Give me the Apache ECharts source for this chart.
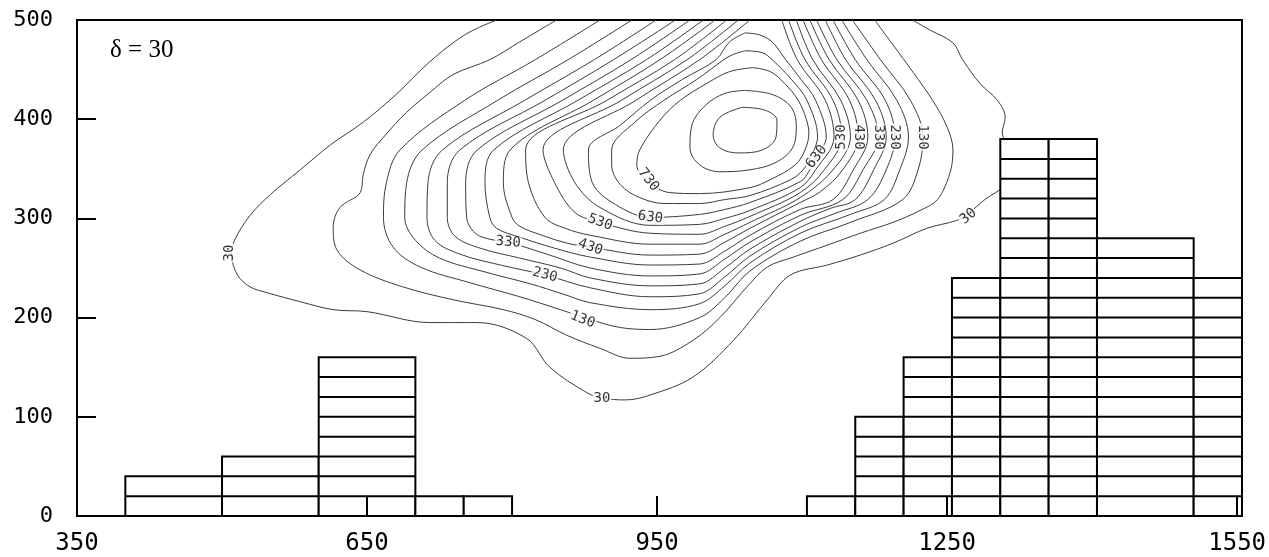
<!DOCTYPE html>
<html><head><meta charset="utf-8">
<script src="https://cdn.jsdelivr.net/npm/echarts@6/dist/echarts.min.js"></script>
<style>html,body{margin:0;padding:0;background:#fff}#c{width:1269px;height:557px}</style>
</head><body><div id="c"></div>
<script>
// Axis ticks
const xTicks = [350, 650, 950, 1250, 1550];
const xMax = 1555;
const yTicks = [0, 100, 200, 300, 400, 500];

// Histogram bins (stacked cells of 20)
const binLeft   = [400, 500, 600, 700, 750, 1105, 1155, 1205, 1255, 1305, 1355, 1405, 1505];
const binRight  = [500, 600, 700, 750, 800, 1155, 1205, 1255, 1305, 1355, 1405, 1505, 1555];
const binHeight = [40,  60,  160, 20,  20,  20,   100,  160,  240,  380,  380,  280,  240];
const cellSize = 20;

// Contour lines, levels 30..830 step 50
const c30 = [[784,500],[751,485],[715,458],[679,424],[646,397],[612,374],[581,349],[550,324],[529,303],[513,278],[510,263],[516,243],[529,231],[547,225],[581,216],[615,208],[650,206],[715,195],[764,195],[815,179],[839,150],[878,124],[893,119],[917,117],[943,122],[987,140],[1029,177],[1064,218],[1088,243],[1126,253],[1160,263],[1194,275],[1229,290],[1260,298],[1272,305],[1289,319],[1310,334],[1320,359],[1313,374],[1307,386],[1310,402],[1302,419],[1284,436],[1266,460],[1256,477],[1232,490],[1214,500]];
const c80 = [[846,500],[808,478],[777,460],[739,445],[715,427],[691,407],[669,384],[653,364],[646,344],[643,326],[622,311],[615,291],[619,268],[643,248],[687,231],[739,218],[791,208],[824,198],[857,182],[891,169],[922,159],[953,161],[987,177],[1015,200],[1043,231],[1064,251],[1091,261],[1126,273],[1160,285],[1194,296],[1222,308],[1240,319],[1253,346],[1256,369],[1250,392],[1235,419],[1215,447],[1194,475],[1175,500]];
const c130 = [[891,500],[824,460],[751,419],[684,369],[670,336],[667,301],[677,271],[705,251],[757,235],[808,221],[850,208],[881,198],[912,190],[943,188],[994,200],[1020,220],[1046,247],[1098,277],[1150,296],[1204,319],[1220,349],[1225,382],[1212,419],[1181,460],[1152,500]];
const c180 = [[924,500],[858,460],[785,419],[707,369],[691,336],[689,301],[700,278],[725,260],[772,246],[819,234],[855,223],[881,215],[943,208],[994,214],[1020,232],[1046,255],[1098,285],[1150,304],[1185,319],[1201,349],[1210,382],[1198,419],[1167,460],[1141,500]];
const c230 = [[949,500],[885,460],[813,419],[728,369],[713,336],[712,301],[720,278],[746,264],[788,253],[834,243],[881,230],[943,221],[994,224],[1020,241],[1046,262],[1098,291],[1134,305],[1168,319],[1187,349],[1196,382],[1186,419],[1155,460],[1132,500]];
const c280 = [[969,500],[905,460],[834,419],[746,369],[733,336],[733,301],[741,282],[767,270],[808,260],[850,250],[881,240],[943,232],[994,234],[1020,250],[1046,269],[1098,297],[1129,310],[1155,319],[1174,349],[1187,382],[1176,419],[1145,460],[1124,500]];
const c330 = [[984,500],[923,460],[852,419],[764,369],[752,336],[753,301],[762,285],[777,279],[796,276],[839,263],[881,250],[943,242],[994,244],[1020,259],[1046,276],[1098,303],[1142,319],[1163,349],[1179,382],[1167,419],[1136,460],[1115,500]];
const c380 = [[998,500],[939,460],[868,419],[781,369],[772,336],[777,301],[784,290],[808,281],[844,270],[881,261],[943,253],[994,254],[1020,267],[1046,283],[1098,309],[1132,319],[1153,349],[1168,382],[1158,419],[1128,460],[1108,500]];
const c430 = [[1010,500],[953,460],[884,419],[798,369],[791,336],[800,301],[808,292],[834,282],[857,275],[881,271],[943,263],[994,264],[1020,276],[1046,290],[1098,316],[1119,327],[1142,349],[1158,382],[1149,419],[1120,460],[1101,500]];
const c480 = [[1022,500],[968,460],[898,419],[814,369],[817,336],[834,301],[855,290],[881,283],[943,274],[994,274],[1020,284],[1046,296],[1098,321],[1132,349],[1150,382],[1140,419],[1111,460],[1094,500]];
const c530 = [[1034,500],[981,460],[913,419],[832,369],[844,336],[865,306],[891,296],[943,285],[994,284],[1020,292],[1046,302],[1098,326],[1123,349],[1141,382],[1132,419],[1103,460],[1086,500]];
const c580 = [[1046,500],[994,460],[928,419],[853,369],[865,336],[891,311],[943,293],[994,294],[1020,300],[1046,308],[1098,331],[1114,349],[1133,382],[1124,419],[1095,460],[1079,500]];
const c630 = [[1041,487],[1056,485],[1069,478],[1083,460],[1099,440],[1114,419],[1125,382],[1115,362],[1108,349],[1098,337],[1046,316],[1020,309],[994,304],[943,301],[907,314],[883,336],[879,369],[912,394],[943,419],[976,440],[1011,460],[1025,478],[1041,487]];
const c680 = [[1041,469],[1059,467],[1069,460],[1089,440],[1105,419],[1116,382],[1110,364],[1101,349],[1088,339],[1046,323],[1020,319],[994,315],[958,315],[932,321],[912,334],[903,354],[903,369],[927,397],[957,419],[991,440],[1019,460],[1028,465],[1041,469]];
const c730 = [[1049,452],[1067,448],[1082,436],[1096,419],[1104,401],[1107,386],[1103,369],[1093,354],[1067,339],[1046,331],[994,325],[963,326],[941,337],[929,354],[932,369],[953,399],[974,419],[1003,437],[1025,448],[1049,452]];
const c780 = [[1041,429],[1069,425],[1088,413],[1094,394],[1090,371],[1072,356],[1046,349],[1015,347],[994,354],[984,371],[986,394],[1000,414],[1020,426],[1041,429]];
const c830 = [[1038,412],[1062,409],[1074,399],[1073,382],[1059,369],[1034,366],[1015,371],[1008,384],[1015,402],[1038,412]];
const contourLevels = [30,80,130,180,230,280,330,380,430,480,530,580,630,680,730,780,830];
const contours = [c30,c80,c130,c180,c230,c280,c330,c380,c430,c480,c530,c580,c630,c680,c730,c780,c830];

// Contour labels
const labelText  = ['30','30','30','130','130','230','230','330','330','430','430','530','530','630','630','730'];
const labelX     = [508, 893, 1272, 873, 1225, 834, 1196, 796, 1179, 881, 1158, 891, 1141, 943, 1115, 941];
const labelY     = [265, 119, 302, 198, 382, 243, 382, 276, 382, 271, 382, 296, 382, 301, 362, 339];
const labelAngle = [90, 0, 40, -22, -90, -15, -90, -5, -90, -20, -90, -20, 90, -8, 52, -52];

const annotation = 'δ = 30';

const mono = 'DejaVu Sans Mono';
const chart = echarts.init(document.getElementById('c'), null, {renderer: 'canvas'});

const series = [];
contours.forEach((c, i) => {
  series.push({
    type: 'line', name: 'c' + contourLevels[i], data: c, showSymbol: false, symbol: 'none',
    smooth: 0.35, silent: true, z: 1,
    lineStyle: {color: '#3c3c3c', width: 1}
  });
});
series.push({
  type: 'scatter', silent: true, z: 3, symbolSize: 0,
  data: labelText.map((t, i) => ({
    value: [labelX[i], labelY[i]], name: t,
    label: {rotate: labelAngle[i]}
  })),
  label: {
    show: true, position: 'inside', formatter: p => p.name,
    fontFamily: mono, fontSize: 14, color: '#000',
    backgroundColor: '#fff', padding: [0, 1], lineHeight: 12
  }
});
series.push({
  type: 'custom', silent: true, z: 4,
  data: binLeft.map((l, i) => [l, binRight[i], binHeight[i]]),
  encode: {x: [0, 1], y: 2},
  renderItem: (params, api) => {
    const x0 = api.value(0), x1 = api.value(1), h = api.value(2);
    const p0 = api.coord([x0, 0]), p1 = api.coord([x1, h]);
    const children = [{
      type: 'rect',
      shape: {x: p0[0], y: p1[1], width: p1[0] - p0[0], height: p0[1] - p1[1]},
      style: {fill: '#fff', stroke: '#000', lineWidth: 2}
    }];
    for (let v = cellSize; v < h; v += cellSize) {
      const a = api.coord([x0, v]), b = api.coord([x1, v]);
      children.push({type: 'line', shape: {x1: a[0], y1: a[1], x2: b[0], y2: b[1]},
        style: {stroke: '#000', lineWidth: 2}});
    }
    return {type: 'group', children};
  }
});

chart.setOption({
  animation: false,
  backgroundColor: '#fff',
  title: {
    text: annotation, left: 105, top: 33,
    textStyle: {fontFamily: 'Liberation Serif', fontSize: 25, fontWeight: 'normal', color: '#000'}
  },
  grid: {left: 77, right: 27, top: 20, bottom: 41, show: true, borderColor: '#000', borderWidth: 2,
    backgroundColor: 'transparent', containLabel: false, outerBoundsMode: 'none'},
  xAxis: {
    type: 'value', min: xTicks[0], max: xMax, interval: xTicks[1] - xTicks[0], z: 6,
    axisLine: {show: true, lineStyle: {color: '#000', width: 2}},
    axisTick: {show: true, inside: true, length: 20, lineStyle: {color: '#000', width: 2}},
    axisLabel: {show: true, showMaxLabel: false, margin: 16, fontFamily: mono, fontSize: 24, color: '#000',
      formatter: v => String(v)},
    splitLine: {show: false}
  },
  yAxis: {
    type: 'value', min: yTicks[0], max: yTicks[yTicks.length - 1], interval: yTicks[1] - yTicks[0], z: 6,
    axisLine: {show: true, lineStyle: {color: '#000', width: 2}},
    axisTick: {show: true, inside: true, length: 19, lineStyle: {color: '#000', width: 2}},
    axisLabel: {show: true, margin: 24, fontFamily: mono, fontSize: 22, color: '#000',
      formatter: v => String(v)},
    splitLine: {show: false}
  },
  series
});
</script></body></html>
